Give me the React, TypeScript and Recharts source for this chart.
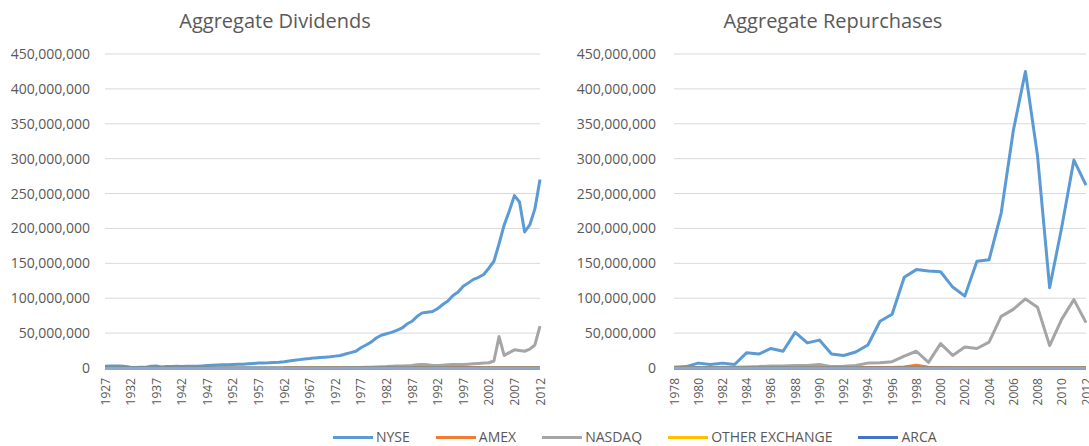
import React from 'react';
import { LineChart, Line, XAxis, YAxis, CartesianGrid } from 'recharts';

// values in millions (axis shows full numbers)
const divYears = [
  1927, 1928, 1929, 1930, 1931, 1932, 1933, 1934, 1935, 1936,
  1937, 1938, 1939, 1940, 1941, 1942, 1943, 1944, 1945, 1946,
  1947, 1948, 1949, 1950, 1951, 1952, 1953, 1954, 1955, 1956,
  1957, 1958, 1959, 1960, 1961, 1962, 1963, 1964, 1965, 1966,
  1967, 1968, 1969, 1970, 1971, 1972, 1973, 1974, 1975, 1976,
  1977, 1978, 1979, 1980, 1981, 1982, 1983, 1984, 1985, 1986,
  1987, 1988, 1989, 1990, 1991, 1992, 1993, 1994, 1995, 1996,
  1997, 1998, 1999, 2000, 2001, 2002, 2003, 2004, 2005, 2006,
  2007, 2008, 2009, 2010, 2011, 2012,
];

const divNyse = [
  2.5, 2.7, 3.0, 2.8, 2.0, 1.0, 0.8, 1.0, 1.2, 2.5,
  3.0, 1.5, 2.0, 2.3, 2.5, 2.3, 2.4, 2.5, 2.6, 3.0,
  3.5, 4.0, 4.3, 4.6, 4.8, 5.0, 5.2, 5.5, 6.0, 6.5,
  7.0, 7.2, 7.5, 8.0, 8.3, 9.0, 10, 11, 12, 13,
  13.5, 14.5, 15, 15.5, 16, 17, 18, 20, 22, 24,
  29, 33, 37, 43, 47, 49, 51, 54, 57, 63,
  67, 74, 79, 80, 81, 85, 91, 96, 104, 109,
  117, 122, 127, 130, 134, 143, 153, 178, 205, 225,
  247, 238, 195, 205, 228, 270,
];

const divAmex = [
  null, null, null, null, null, null, null, null, null, null,
  null, null, null, null, null, null, null, null, null, null,
  null, null, null, null, null, null, null, null, null, null,
  null, null, null, null, null, 0.2, 0.2, 0.2, 0.2, 0.3,
  0.3, 0.3, 0.3, 0.3, 0.3, 0.3, 0.4, 0.4, 0.4, 0.4,
  0.4, 0.5, 0.5, 0.5, 0.5, 0.5, 0.5, 0.6, 0.6, 0.6,
  0.6, 0.6, 0.6, 0.6, 0.6, 0.6, 0.6, 0.6, 0.6, 0.6,
  0.6, 0.6, 0.6, 0.6, 0.5, 0.5, 0.5, 0.5, 0.5, 0.5,
  0.5, 0.5, 0.4, 0.4, 0.4, 0.4,
];

const divNasdaq = [
  null, null, null, null, null, null, null, null, null, null,
  null, null, null, null, null, null, null, null, null, null,
  null, null, null, null, null, null, null, null, null, null,
  null, null, null, null, null, null, null, null, null, null,
  null, null, null, null, null, null, 0.3, 0.4, 0.5, 0.6,
  0.8, 1.0, 1.2, 1.5, 1.8, 2.0, 2.5, 2.8, 3.0, 3.2,
  3.5, 4.5, 5.0, 4.5, 3.5, 3.5, 4.0, 4.5, 5.0, 5.0,
  5.0, 5.5, 6.0, 6.5, 7.0, 7.5, 10, 45, 18, 22,
  26, 25, 24, 27, 33, 60,
];

const divOther = [
  0, 0, 0, 0, 0, 0, 0, 0, 0, 0,
  0, 0, 0, 0, 0, 0, 0, 0, 0, 0,
  0, 0, 0, 0, 0, 0, 0, 0, 0, 0,
  0, 0, 0, 0, 0, 0, 0, 0, 0, 0,
  0, 0, 0, 0, 0, 0, 0, 0, 0, 0,
  0, 0, 0, 0, 0, 0, 0, 0, 0, 0,
  0, 0, 0, 0, 0, 0, 0, 0, 0, 0,
  0, 0, 0, 0, 0, 0, 0, 0, 0, 0,
  0, 0, 0, 0, 0, 0,
];

const divArca = [
  0, 0, 0, 0, 0, 0, 0, 0, 0, 0,
  0, 0, 0, 0, 0, 0, 0, 0, 0, 0,
  0, 0, 0, 0, 0, 0, 0, 0, 0, 0,
  0, 0, 0, 0, 0, 0, 0, 0, 0, 0,
  0, 0, 0, 0, 0, 0, 0, 0, 0, 0,
  0, 0, 0, 0, 0, 0, 0, 0, 0, 0,
  0, 0, 0, 0, 0, 0, 0, 0, 0, 0,
  0, 0, 0, 0, 0, 0, 0, 0, 0, 0,
  0, 0, 0, 0, 0, 0,
];

const repYears = [
  1978, 1979, 1980, 1981, 1982, 1983, 1984, 1985, 1986, 1987,
  1988, 1989, 1990, 1991, 1992, 1993, 1994, 1995, 1996, 1997,
  1998, 1999, 2000, 2001, 2002, 2003, 2004, 2005, 2006, 2007,
  2008, 2009, 2010, 2011, 2012,
];

const repNyse = [
  1, 2, 7, 5, 7, 5, 22, 20, 28, 24,
  51, 36, 40, 20, 18, 23, 33, 67, 77, 130,
  141, 139, 138, 116, 103, 153, 155, 222, 340, 425,
  304, 115, 202, 298, 262,
];

const repAmex = [
  0.2, 0.2, 0.3, 0.3, 0.3, 0.3, 0.4, 0.4, 0.4, 0.4,
  0.5, 0.5, 0.5, 0.4, 0.4, 0.5, 0.6, 0.6, 0.8, 1.5,
  4, 1, 0.6, 0.5, 0.5, 0.5, 0.5, 0.5, 0.5, 0.5,
  0.5, 0.4, 0.4, 0.4, 0.4,
];

const repNasdaq = [
  0.3, 0.5, 0.8, 0.8, 1, 1.2, 1.5, 2, 3, 3,
  3.5, 3.5, 5, 2, 2.5, 3.5, 7, 7.5, 9, 17,
  24, 8, 35, 18, 30, 28, 37, 74, 84, 99,
  87, 32, 70, 98, 65,
];

const repOther = [
  0, 0, 0, 0, 0, 0, 0, 0, 0, 0,
  0, 0, 0, 0, 0, 0, 0, 0, 0, 0,
  0, 0, 0, 0, 0, 0, 0, 0, 0, 0,
  0, 0, 0, 0, 0,
];

const repArca = [
  0, 0, 0, 0, 0, 0, 0, 0, 0, 0,
  0, 0, 0, 0, 0, 0, 0, 0, 0, 0,
  0, 0, 0, 0, 0, 0, 0, 0, 0, 0,
  0, 0, 0, 0, 0,
];

const yTicks = [0, 50, 100, 150, 200, 250, 300, 350, 400, 450];

const series = [
  { key: 'NYSE', color: '#5B9BD5' },
  { key: 'AMEX', color: '#ED7D31' },
  { key: 'NASDAQ', color: '#A5A5A5' },
  { key: 'OTHER EXCHANGE', color: '#FFC000' },
  { key: 'ARCA', color: '#4472C4' },
];

const divData = divYears.map((year, i) => ({
  year,
  NYSE: divNyse[i],
  AMEX: divAmex[i],
  NASDAQ: divNasdaq[i],
  'OTHER EXCHANGE': divOther[i],
  ARCA: divArca[i],
}));

const repData = repYears.map((year, i) => ({
  year,
  NYSE: repNyse[i],
  AMEX: repAmex[i],
  NASDAQ: repNasdaq[i],
  'OTHER EXCHANGE': repOther[i],
  ARCA: repArca[i],
}));

const TEXT = '#595959';
const GRID = '#D9D9D9';

const fmtMillions = (v: number) => (v * 1000000).toLocaleString('en-US');

const YearTick = (props: any) => {
  const { x, y, payload } = props;
  return (
    <text
      x={x}
      y={y}
      transform={`rotate(-90, ${x}, ${y})`}
      textAnchor="end"
      dominantBaseline="central"
      fill={TEXT}
      fontSize={12}
    >
      {payload.value}
    </text>
  );
};

function ExchangeChart({ data, width, marginRight, yWidth, yGap, interval }: any) {
  return (
    <LineChart
      width={width}
      height={446}
      data={data}
      margin={{ top: 54, right: marginRight, bottom: 0, left: 0 }}
    >
      <CartesianGrid vertical={false} stroke={GRID} strokeWidth={1} />
      <XAxis
        dataKey="year"
        interval={interval}
        height={78}
        tickLine={false}
        tickSize={0}
        tickMargin={10}
        axisLine={{ stroke: GRID }}
        tick={<YearTick />}
      />
      <YAxis
        domain={[0, 450]}
        ticks={yTicks}
        tickFormatter={fmtMillions}
        width={yWidth}
        axisLine={false}
        tickLine={false}
        tickSize={0}
        tickMargin={yGap}
        tick={{ fill: TEXT, fontSize: 14 }}
      />
      {series.map((s) => (
        <Line
          key={s.key}
          dataKey={s.key}
          stroke={s.color}
          strokeWidth={3}
          dot={false}
          activeDot={false}
          strokeLinejoin="round"
          isAnimationActive={false}
        />
      ))}
    </LineChart>
  );
}

export default function App() {
  return (
    <div
      style={{
        position: 'fixed',
        left: 0,
        top: 0,
        width: 1089,
        height: 446,
        overflow: 'hidden',
        background: '#fff',
        fontFamily: '"Open Sans", sans-serif',
      }}
    >
      <div style={{ position: 'absolute', left: 0, top: 0, width: 560, height: 446 }}>
        <ExchangeChart data={divData} width={560} marginRight={20} yWidth={105} yGap={15} interval={4} />
      </div>
      <div style={{ position: 'absolute', left: 560, top: 0, width: 540, height: 446 }}>
        <ExchangeChart data={repData} width={540} marginRight={14} yWidth={114} yGap={18} interval={1} />
      </div>

      <div
        style={{
          position: 'absolute', left: 0, top: 9, width: 550, textAlign: 'center',
          fontSize: 20, lineHeight: '24px', color: TEXT,
        }}
      >
        Aggregate Dividends
      </div>
      <div
        style={{
          position: 'absolute', left: 560, top: 9, width: 546, textAlign: 'center',
          fontSize: 20, lineHeight: '24px', color: TEXT,
        }}
      >
        Aggregate Repurchases
      </div>

      {/* shared legend */}
      <div
        style={{
          position: 'absolute', left: 333, top: 427, display: 'flex', alignItems: 'center',
          fontSize: 14, lineHeight: '20px', color: TEXT, whiteSpace: 'nowrap',
        }}
      >
        {series.map((s) => (
          <div key={s.key} style={{ display: 'flex', alignItems: 'center', marginRight: 26 }}>
            <div style={{ width: 40, height: 3, background: s.color, marginRight: 3 }} />
            <span>{s.key}</span>
          </div>
        ))}
      </div>
    </div>
  );
}
